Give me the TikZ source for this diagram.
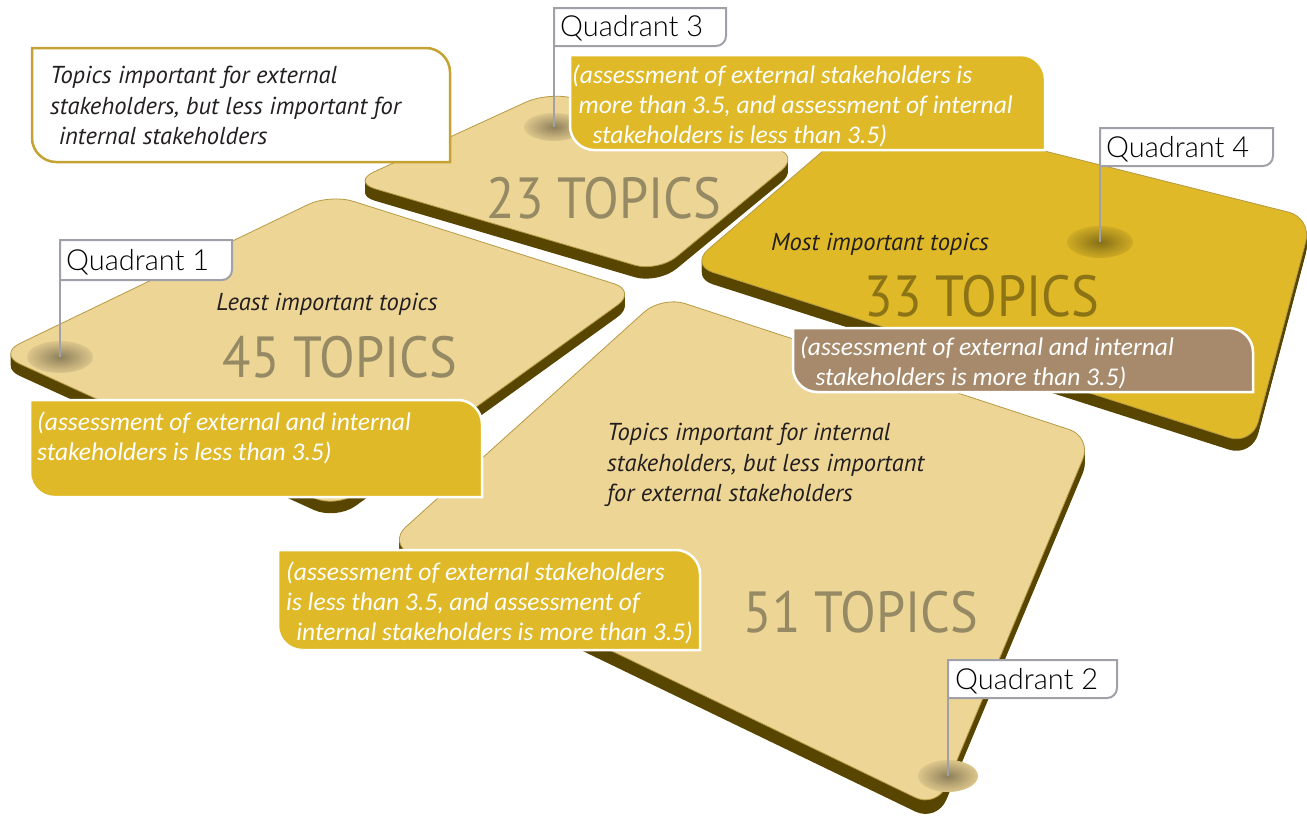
\documentclass[tikz,border=0pt]{standalone}
\usepackage{fontspec}
\setmainfont{PT Sans}
\newfontfamily\calfont{Carlito}
\IfFontExistsTF{Lato Light}{\newfontfamily\thinfont{Lato Light}}{\newfontfamily\thinfont{Lato}}

\definecolor{tilelight}{HTML}{EDD596}
\definecolor{tilegold}{HTML}{DFB927}
\definecolor{sidebrown}{HTML}{584500}
\definecolor{tileedge}{HTML}{B59A45}
\definecolor{topicgrey}{HTML}{958A63}
\definecolor{topicolive}{HTML}{8C7416}
\definecolor{notebrown}{HTML}{A68A6B}
\definecolor{pingrey}{HTML}{A0A1A8}
\definecolor{framegold}{HTML}{C4A234}
\definecolor{inkdark}{HTML}{231F20}

\tikzset{
  count/.style={text=topicgrey, font=\fontsize{58}{58}\selectfont, xscale=0.9, inner sep=0, anchor=base},
  note/.style={text=inkdark, font=\itshape\fontsize{24.5}{30.5}\selectfont, align=left, inner sep=0},
  remark/.style={text=white, font=\calfont\itshape\fontsize{25.5}{30}\selectfont, align=left, inner sep=0, anchor=north west},
  qtext/.style={font=\thinfont\fontsize{29}{29}\selectfont, inner sep=0, anchor=base west},
  qframe/.style={fill=white, draw=pingrey, line width=2pt},
  pin/.style={draw=pingrey, line width=2pt},
  dent/.style={inner color=#1!60!black, outer color=#1!93!black},
}

% tile: top colour, depth, four corners
\newcommand\tile[6]{%
  \foreach \d in {#2,...,1}
    \fill[sidebrown, yshift=-\d pt, rounded corners=24pt] #3 -- #4 -- #5 -- #6 -- cycle;
  \filldraw[fill=#1, draw=tileedge, line width=0.8pt, rounded corners=24pt] #3 -- #4 -- #5 -- #6 -- cycle;}

% callout: style, x1, y1, x2, y2
\newcommand\callbox[5]{%
  \draw[#1] (#2,#3) -- ({#4-24},#3) .. controls ({#4-11},#3) and (#4,{#3+11}) .. (#4,{#3+24})
    -- (#4,#5) -- ({#2+24},#5) .. controls ({#2+11},#5) and (#2,{#5-11}) .. (#2,{#5-24}) -- cycle;}

% quadrant label box: x1, y1, x2, y2
\newcommand\qbox[4]{%
  \draw[qframe] (#1,#2) -- (#3,#2) -- (#3,{#4-10}) .. controls (#3,{#4-4.5}) and ({#3-4.5},#4) .. ({#3-10},#4) -- (#1,#4) -- cycle;}

\begin{document}
\begin{tikzpicture}[x=1pt,y=-1pt]
\useasboundingbox (0,0) rectangle (1307,833);

% tiles, back to front
\tile{tilelight}{12}{(352,182)}{(548,92)}{(800,155)}{(658,272)}
\tile{tilegold}{12}{(690,265)}{(873,108)}{(1312,218)}{(1252,445)}
\tile{tilelight}{12}{(-2,354)}{(330,194)}{(637,291)}{(336,508)}
\tile{tilelight}{14}{(388,543)}{(662,296)}{(1092,437)}{(937,808)}

% dents under the pins
\coordinate (q1dent) at (60,357);
\coordinate (q2dent) at (948,776);
\coordinate (q3dent) at (554,127);
\coordinate (q4dent) at (1100,242);
\shade[dent=tilelight] (q1dent) ellipse [x radius=33, y radius=16];
\shade[dent=tilelight] (q2dent) ellipse [x radius=30, y radius=16];
\shade[dent=tilelight] (q3dent) ellipse [x radius=30, y radius=14];
\shade[dent=tilegold] (q4dent) ellipse [x radius=33, y radius=16];

% texts on the tiles
\node[note, anchor=base] (least) at (327,310) {Least important topics};
\node[note, anchor=base] (most) at (880,250) {Most important topics};
\node[note, anchor=north west] (inner) at (607,423) {Topics important for internal\\stakeholders, but less important\\for external stakeholders};
\node[count] (n45) at (340,377) {45 TOPICS};
\node[count] (n23) at (604,218) {23 TOPICS};
\node[count, text=topicolive] (n33) at (982,316) {33 TOPICS};
\node[count] (n51) at (861,632) {51 TOPICS};

% callouts
\callbox{fill=white, draw=framegold, line width=2.5pt}{32}{48}{450}{162}
\node[note, anchor=north west] (outer) at (50,66) {Topics important for external\\stakeholders, but less important for\\\hspace*{0.35em}internal stakeholders};
\callbox{fill=tilegold, draw=white, line width=2.5pt}{570}{55}{1045}{150}
\node[remark] (r3) at (572,65) {(assessment of external stakeholders is\\\hspace*{0.25em}more than 3.5, and assessment of internal\\\hspace*{0.8em}stakeholders is less than 3.5)};
\callbox{fill=notebrown, draw=white, line width=2.5pt}{793}{328}{1253}{392}
\node[remark] (r4) at (800,337) {(assessment of external and internal\\\hspace*{0.6em}stakeholders is more than 3.5)};
\callbox{fill=tilegold, draw=white, line width=2.5pt}{30}{400}{482}{497}
\node[remark] (r1) at (37,412) {(assessment of external and internal\\stakeholders is less than 3.5)};
\callbox{fill=tilegold, draw=white, line width=2.5pt}{278}{550}{700}{650}
\node[remark] (r2) at (286,562) {(assessment of external stakeholders\\is less than 3.5, and assessment of\\\hspace*{0.4em}internal stakeholders is more than 3.5)};

% quadrant flags
\coordinate (q1foot) at (60,280);
\coordinate (q2foot) at (948,698);
\coordinate (q3foot) at (554,46);
\coordinate (q4foot) at (1100,166);
\draw[pin] (q1foot) -- (q1dent);
\draw[pin] (q2foot) -- (q2dent);
\draw[pin] (q3foot) -- (q3dent);
\draw[pin] (q4foot) -- (q4dent);
\qbox{60}{240}{232}{280}
\qbox{948}{660}{1117}{698}
\qbox{554}{8}{726}{46}
\qbox{1100}{128}{1273}{166}
\node[qtext] (q1lab) at (66,270) {Quadrant 1};
\node[qtext] (q2lab) at (955,689) {Quadrant 2};
\node[qtext] (q3lab) at (560,36) {Quadrant 3};
\node[qtext] (q4lab) at (1106,157) {Quadrant 4};
\end{tikzpicture}
\end{document}
